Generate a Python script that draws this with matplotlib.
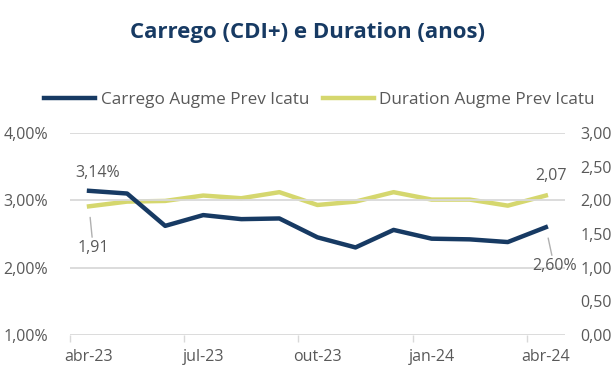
import matplotlib.pyplot as plt
from matplotlib.ticker import FuncFormatter

# monthly series, abr-23 .. abr-24
months = ["abr-23", "mai-23", "jun-23", "jul-23", "ago-23", "set-23", "out-23",
          "nov-23", "dez-23", "jan-24", "fev-24", "mar-24", "abr-24"]
carrego = [3.14, 3.10, 2.62, 2.78, 2.72, 2.73, 2.45, 2.30, 2.56, 2.43, 2.42, 2.38, 2.60]
duration = [1.91, 1.98, 1.99, 2.07, 2.03, 2.12, 1.93, 1.98, 2.12, 2.01, 2.01, 1.92, 2.07]

navy = "#173a63"
lime = "#d5d76e"
grey = "#595959"
plt.rcParams['font.family'] = ['Open Sans', 'DejaVu Sans']

fig = plt.figure(figsize=(6.14, 3.67), dpi=100)
ax = fig.add_axes([0.114, 0.087, 0.806, 0.551])
ax2 = ax.twinx()

x = list(range(len(months)))
ax.plot(x, carrego, color=navy, lw=3.2, zorder=3, solid_joinstyle="round")
ax2.plot(x, duration, color=lime, lw=3.2, zorder=2, solid_joinstyle="round")
ax.set_zorder(ax2.get_zorder() + 1)
ax.patch.set_visible(False)

ax.set_xlim(-0.5, 12.5)
ax.set_ylim(1, 4)
ax2.set_ylim(0, 3)
ax.set_yticks([1, 2, 3, 4])
ax2.set_yticks([0, 0.5, 1, 1.5, 2, 2.5, 3])
ax.yaxis.set_major_formatter(FuncFormatter(lambda v, p: f"{v:.2f}%".replace(".", ",")))
ax2.yaxis.set_major_formatter(FuncFormatter(lambda v, p: f"{v:.2f}".replace(".", ",")))

# labels on every 3rd month, tick marks between categories
ax.set_xticks([0, 3, 6, 9, 12])
ax.set_xticklabels([months[i] for i in [0, 3, 6, 9, 12]])
ax.set_xticks([-0.5, 2.5, 5.5, 8.5, 11.5], minor=True)
ax.tick_params(axis="x", which="major", length=0, pad=10, labelsize=11.5, labelcolor=grey)
ax.tick_params(axis="x", which="minor", length=5, color="#d9d9d9", width=1)
ax.tick_params(axis="y", length=0, pad=16, labelsize=11.5, labelcolor=grey)
ax2.tick_params(axis="y", length=0, pad=11, labelsize=11.5, labelcolor=grey)

ax.grid(axis="y", color="#d9d9d9", lw=1.3)
ax.set_axisbelow(True)
for a in (ax, ax2):
    for s in a.spines.values():
        s.set_visible(False)

# data labels on first and last point
lead = dict(arrowstyle="-", color="#b0b0b0", lw=1, shrinkA=0, shrinkB=8)
ax.annotate("3,14%", (0, carrego[0]), xytext=(6.5, 13),
            textcoords="offset points", ha="center", va="center", fontsize=11.5, color=grey)
ax2.annotate("1,91", (0, duration[0]), xytext=(3, -30), textcoords="offset points",
             ha="center", va="center", fontsize=11.5, color=grey, arrowprops=lead)
ax2.annotate("2,07", (12, duration[-1]), xytext=(4, 14), textcoords="offset points",
             ha="center", va="center", fontsize=11.5, color=grey)
ax.annotate("2,60%", (12, carrego[-1]), xytext=(6, -28), textcoords="offset points",
            ha="center", va="center", fontsize=11.5, color=grey, arrowprops=lead)

fig.text(0.5, 0.912, "Carrego (CDI+) e Duration (anos)", ha="center", va="center",
         fontsize=16, fontweight="bold", color=navy)

h1, = ax.plot([], [], color=navy, lw=3.2, label="Carrego Augme Prev Icatu")
h2, = ax.plot([], [], color=lime, lw=3.2, label="Duration Augme Prev Icatu")
fig.legend(handles=[h1, h2], loc="center", bbox_to_anchor=(0.52, 0.727), ncol=2,
           frameon=False, fontsize=12.3, handlelength=3.0, handletextpad=0.3,
           columnspacing=0.8, labelcolor=grey)

fig.savefig("out.png", dpi=100)
